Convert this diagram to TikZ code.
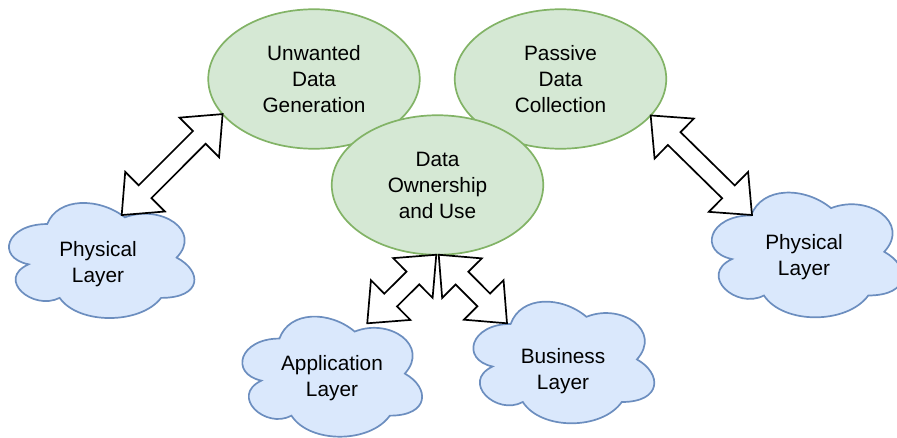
\documentclass[tikz,border=0pt]{standalone}
\usepackage{fontspec}
\setmainfont{Liberation Sans}
\usetikzlibrary{calc,shapes.geometric}

\definecolor{topicfill}{HTML}{D5E8D4}
\definecolor{topicstroke}{HTML}{82B366}
\definecolor{layerfill}{HTML}{DAE8FC}
\definecolor{layerstroke}{HTML}{6C8EBF}

\newcommand\diagfont{\fontsize{20.8pt}{26pt}\selectfont}

% arrow geometry: head length, head half-width, shaft half-width
\newcommand\ahl{33pt}
\newcommand\ahw{28pt}
\newcommand\asw{9pt}

\tikzset{
  topic/.style={ellipse, draw=topicstroke, fill=topicfill, line width=1.7pt,
    minimum width=211.5pt, minimum height=139.5pt, inner sep=0pt, outer sep=0pt,
    align=center, font=\diagfont},
  layerbox/.style={rectangle, inner sep=0pt, outer sep=0pt},
  cloudstroke/.style={draw=layerstroke, fill=layerfill, line width=1.7pt},
  layertext/.style={align=center, font=\diagfont, inner sep=0pt},
  flexar/.style={draw=black, fill=white, line width=1.7pt, line join=miter},
}

% cloud outline filling the box of a named node (#2 = width, #3 = height)
\newcommand\cloudoutline[3]{%
  \begin{scope}[shift={(#1.north west)}, x={(#2pt,0pt)}, y={(0pt,-#3pt)}]
    \draw[cloudstroke] (0.25,0.25)
      .. controls (0.05,0.25) and (0,0.5) .. (0.16,0.55)
      .. controls (0,0.66) and (0.18,0.9) .. (0.31,0.8)
      .. controls (0.4,1) and (0.7,1) .. (0.8,0.8)
      .. controls (1,0.8) and (1,0.6) .. (0.875,0.5)
      .. controls (1,0.3) and (0.8,0.1) .. (0.625,0.2)
      .. controls (0.5,0.05) and (0.3,0.05) .. (0.25,0.25) -- cycle;
  \end{scope}}

% hollow double-headed block arrow between two coordinates
\newcommand\dualarrow[2]{%
  \draw[flexar] (#1)
    -- ($(#1)!\ahl!(#2)!\ahw!90:(#2)$)
    -- ($(#1)!\ahl!(#2)!\asw!90:(#2)$)
    -- ($(#2)!\ahl!(#1)!\asw!-90:(#1)$)
    -- ($(#2)!\ahl!(#1)!\ahw!-90:(#1)$)
    -- (#2)
    -- ($(#2)!\ahl!(#1)!\ahw!90:(#1)$)
    -- ($(#2)!\ahl!(#1)!\asw!90:(#1)$)
    -- ($(#1)!\ahl!(#2)!\asw!-90:(#2)$)
    -- ($(#1)!\ahl!(#2)!\ahw!-90:(#2)$)
    -- cycle;}

\begin{document}
\begin{tikzpicture}[x=1pt, y=-1pt]
  \useasboundingbox (0,0) rectangle (897,437);

  % topic ellipses
  \node[topic] (udg) at (314,79) {Unwanted\\Data\\Generation};
  \node[topic] (pdc) at (560.5,79) {Passive\\Data\\Collection};
  \node[topic] (dou) at (437.5,185) {Data\\Ownership\\and Use};

  % layer clouds
  \node[layerbox, minimum width=207pt, minimum height=134.3pt] (pl1) at (99,257.6) {};
  \cloudoutline{pl1}{207}{134.3}
  \node[layertext] at (98,264.5) {Physical\\Layer};

  \node[layerbox, minimum width=213pt, minimum height=145.6pt] (pl2) at (804.4,251.8) {};
  \cloudoutline{pl2}{213}{145.6}
  \node[layertext] at (804,257.5) {Physical\\Layer};

  \node[layerbox, minimum width=200.7pt, minimum height=140.2pt] (app) at (329.6,373.6) {};
  \cloudoutline{app}{200.7}{140.2}
  \node[layertext] at (332,378.5) {Application\\Layer};

  \node[layerbox, minimum width=202pt, minimum height=142pt] (bus) at (561.2,359.4) {};
  \cloudoutline{bus}{202}{142}
  \node[layertext] at (563,371.5) {Business\\Layer};

  % connector end points
  \coordinate (a1s) at ($(pl1.north west)+(126.2,24.6)$);
  \coordinate (a1e) at (udg.201.4);
  \coordinate (a2s) at (pdc.338.7);
  \coordinate (a2e) at ($(pl2.north west)+(54.1,36)$);
  \coordinate (a3s) at (dou.269);
  \coordinate (a3e) at ($(app.north west)+(138,19.8)$);
  \coordinate (a4s) at (dou.271);
  \coordinate (a4e) at ($(bus.north west)+(46.8,34.9)$);

  % connectors
  \dualarrow{a1s}{a1e}
  \dualarrow{a2s}{a2e}
  \dualarrow{a3s}{a3e}
  \dualarrow{a4s}{a4e}
\end{tikzpicture}
\end{document}
